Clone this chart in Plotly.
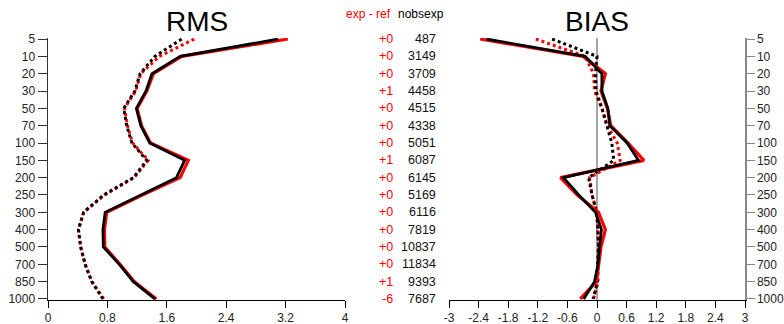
import plotly.graph_objects as go
from plotly.subplots import make_subplots

levels = ["5", "10", "20", "30", "50", "70", "100", "150", "200", "250",
          "300", "400", "500", "700", "850", "1000"]
diff_labels = ["+0", "+0", "+0", "+1", "+0", "+0", "+0", "+1", "+0", "+0",
               "+0", "+0", "+0", "+0", "+1", "-6"]
nobs_exp = ["487", "3149", "3709", "4458", "4515", "4338", "5051", "6087", "6145",
            "5169", "6116", "7819", "10837", "11834", "9393", "7687"]

# RMS
rms_exp_solid = [3.10, 1.78, 1.40, 1.32, 1.19, 1.25, 1.37, 1.84, 1.73, 1.24,
                 0.77, 0.74, 0.745, 0.96, 1.15, 1.44]
rms_ref_solid = [3.23, 1.80, 1.42, 1.33, 1.20, 1.26, 1.38, 1.89, 1.78, 1.27,
                 0.79, 0.76, 0.765, 0.97, 1.16, 1.46]
rms_exp_dot = [1.80, 1.44, 1.24, 1.17, 1.02, 1.06, 1.13, 1.33, 1.15, 0.75,
               0.48, 0.41, 0.44, 0.50, 0.59, 0.74]
rms_ref_dot = [1.97, 1.50, 1.25, 1.18, 1.03, 1.07, 1.14, 1.35, 1.16, 0.76,
               0.48, 0.41, 0.44, 0.50, 0.59, 0.75]

# BIAS
bias_exp_solid = [-2.24, -0.24, 0.10, 0.10, 0.22, 0.26, 0.61, 0.84, -0.68, -0.37,
                  -0.03, 0.09, 0.05, 0.02, -0.05, -0.27]
bias_ref_solid = [-2.37, -0.28, 0.17, 0.08, 0.21, 0.28, 0.63, 0.95, -0.74, -0.40,
                  0.03, 0.17, 0.08, 0.04, -0.01, -0.34]
bias_exp_dot = [-0.91, 0.00, -0.03, -0.02, 0.10, 0.20, 0.30, 0.34, -0.17, -0.10,
                -0.01, 0.02, 0.03, 0.01, 0.01, -0.08]
bias_ref_dot = [-1.24, -0.24, -0.07, -0.05, 0.10, 0.21, 0.41, 0.47, -0.15, -0.10,
                0.00, 0.02, 0.03, 0.02, 0.02, -0.07]

rms_ticks = [0, 0.8, 1.6, 2.4, 3.2, 4]
rms_ticktext = ["0", "0.8", "1.6", "2.4", "3.2", "4"]
bias_ticks = [-3, -2.4, -1.8, -1.2, -0.6, 0, 0.6, 1.2, 1.8, 2.4, 3]
bias_ticktext = ["-3", "-2.4", "-1.8", "-1.2", "-0.6", "0", "0.6", "1.2", "1.8", "2.4", "3"]

idx = list(range(len(levels)))
W, H = 784, 324
ML, MR, MT, MB = 48, 39, 38, 24
PW = W - ML - MR
PH = H - MT - MB


def px_x(p):
    return (p - ML) / PW


def px_y(p):
    return (H - MB - p) / PH


fig = make_subplots(rows=1, cols=2, horizontal_spacing=0.01)
fig.update_layout(xaxis=dict(domain=[0, px_x(345)]),
                  xaxis2=dict(domain=[px_x(449), 1]))

RED = "#ff0000"
BLACK = "#000000"


def add(xs, col, color, dash, width):
    fig.add_trace(go.Scatter(x=xs, y=idx, mode="lines",
                             line=dict(color=color, width=width, dash=dash),
                             hoverinfo="skip", showlegend=False), row=1, col=col)


add(rms_ref_dot, 1, RED, "dot", 3)
add(rms_exp_dot, 1, BLACK, "dot", 3)
add(rms_ref_solid, 1, RED, "solid", 3.2)
add(rms_exp_solid, 1, BLACK, "solid", 2.8)

add(bias_ref_dot, 2, RED, "dot", 3)
add(bias_exp_dot, 2, BLACK, "dot", 3)
add(bias_ref_solid, 2, RED, "solid", 3.2)
add(bias_exp_solid, 2, BLACK, "solid", 2.8)

fig.add_shape(type="line", xref="x2", yref="y2 domain", x0=0, x1=0, y0=0, y1=1,
              line=dict(color="#888888", width=1.5), layer="below")

yrange = [len(levels) - 1 + 0.06, -0.06]
tickfont = dict(family="Liberation Sans, Arial, sans-serif", size=12, color="#222222")

fig.update_xaxes(range=[0, 4], tickvals=rms_ticks, ticktext=rms_ticktext,
                 showline=True, linecolor="#000000", linewidth=1,
                 ticks="outside", ticklen=7, tickcolor="#000000", automargin=False,
                 showgrid=False, zeroline=False, tickfont=tickfont, row=1, col=1)
fig.update_xaxes(range=[-3, 3], tickvals=bias_ticks, ticktext=bias_ticktext,
                 showline=True, linecolor="#000000", linewidth=1,
                 ticks="outside", ticklen=7, tickcolor="#000000", automargin=False,
                 showgrid=False, zeroline=False, tickfont=tickfont, row=1, col=2)
fig.update_yaxes(range=yrange, tickvals=idx, ticktext=levels,
                 showline=True, linecolor="#333333", linewidth=1.5,
                 ticks="outside", ticklen=9, tickcolor="#333333", automargin=False,
                 showgrid=False, zeroline=False, tickfont=tickfont, row=1, col=1)
fig.update_yaxes(range=yrange, tickvals=idx, ticktext=levels, side="right",
                 showline=True, linecolor="#888888", linewidth=1.5,
                 ticks="outside", ticklen=8, tickcolor="#888888", automargin=False,
                 showgrid=False, zeroline=False, tickfont=tickfont, row=1, col=2)

annots = []
titlefont = dict(family="Liberation Sans, Arial, sans-serif", size=28, color="#000000")
annots.append(dict(text="RMS", x=px_x(196.5), y=px_y(22), xref="paper", yref="paper",
                   showarrow=False, xanchor="center", yanchor="middle", font=titlefont))
annots.append(dict(text="BIAS", x=px_x(597), y=px_y(22), xref="paper", yref="paper",
                   showarrow=False, xanchor="center", yanchor="middle", font=titlefont))
hdrfont = dict(family="Liberation Sans, Arial, sans-serif", size=12)
annots.append(dict(text="exp - ref", x=px_x(392.5), y=px_y(14), xref="paper", yref="paper",
                   showarrow=False, xanchor="right", yanchor="middle",
                   font=dict(hdrfont, color=RED)))
annots.append(dict(text="nobsexp", x=px_x(395.5), y=px_y(14), xref="paper", yref="paper",
                   showarrow=False, xanchor="left", yanchor="middle",
                   font=dict(hdrfont, color="#000000")))
for i, (d, n) in enumerate(zip(diff_labels, nobs_exp)):
    annots.append(dict(text=d, x=px_x(394.5), y=i, xref="paper", yref="y",
                       showarrow=False, xanchor="right", yanchor="middle",
                       font=dict(family="Liberation Sans, Arial, sans-serif", size=12.5, color=RED)))
    annots.append(dict(text=n, x=px_x(438), y=i, xref="paper", yref="y",
                       showarrow=False, xanchor="right", yanchor="middle",
                       font=dict(family="Liberation Sans, Arial, sans-serif", size=12.5, color="#111111")))

fig.update_layout(width=W, height=H, margin=dict(l=ML, r=MR, t=MT, b=MB, autoexpand=False),
                  paper_bgcolor="white", plot_bgcolor="white", annotations=annots,
                  showlegend=False, hovermode=False)

fig.write_html("out.html", config={"displayModeBar": False, "staticPlot": True},
               post_script="document.body.style.margin='0';document.body.style.padding='0';document.body.style.overflow='hidden';")
